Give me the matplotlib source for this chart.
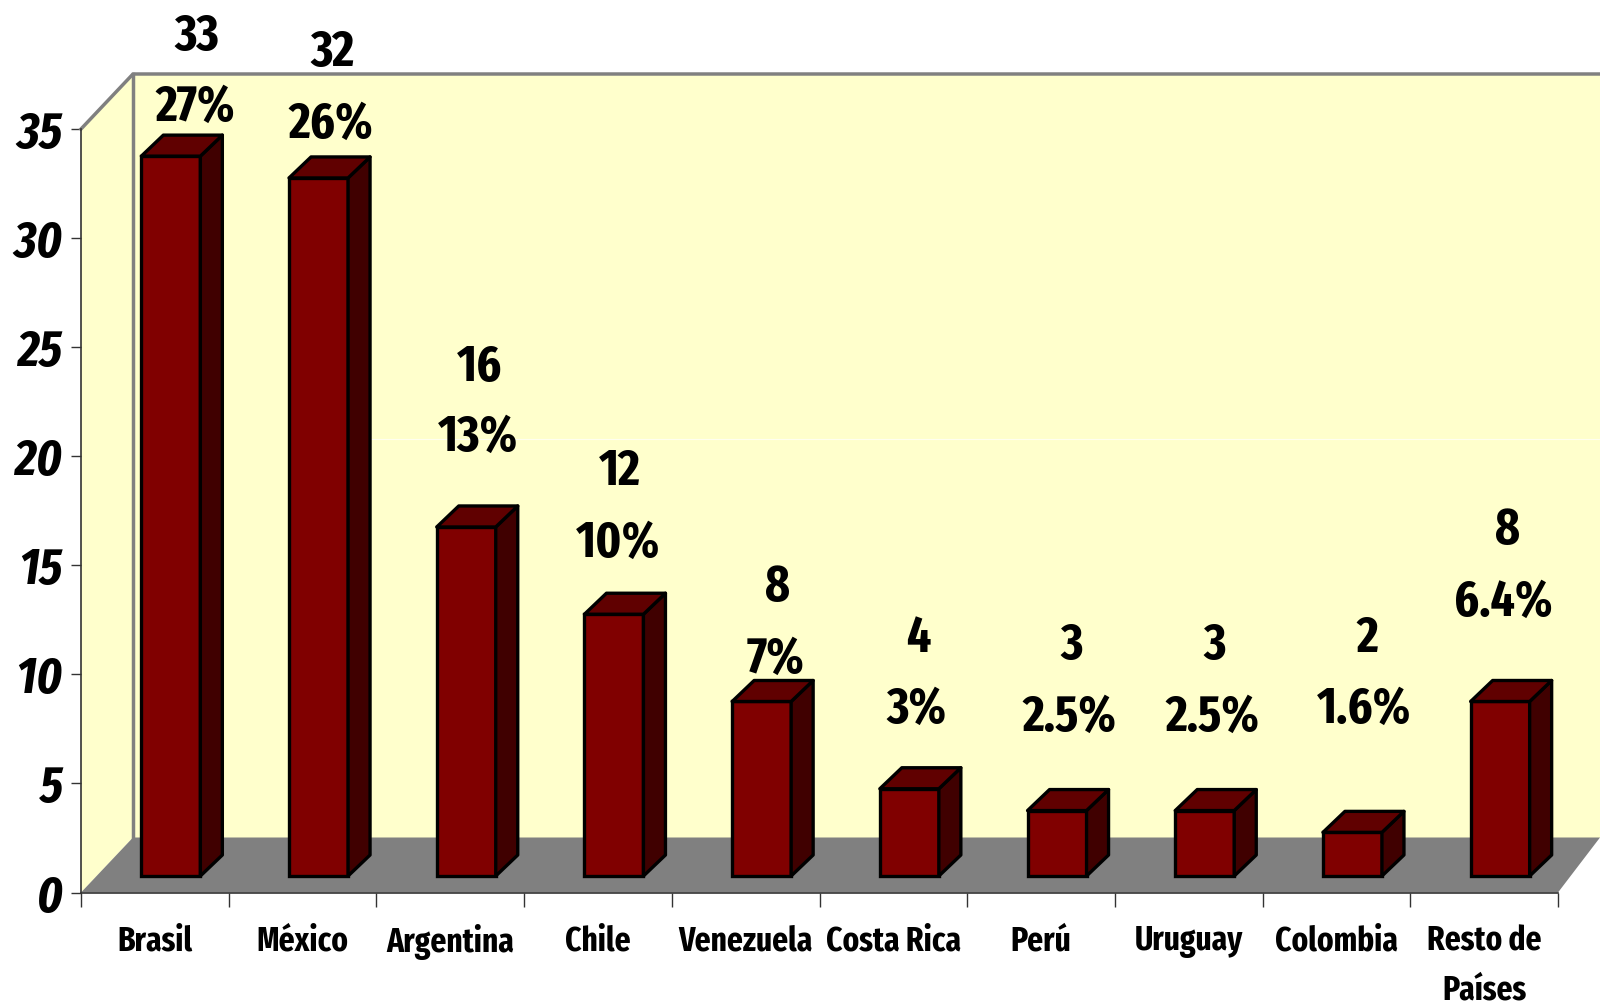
import matplotlib
matplotlib.use('Agg')
import matplotlib.pyplot as plt
from matplotlib.patches import Polygon

countries = ['Brasil', 'México', 'Argentina', 'Chile', 'Venezuela', 'Costa Rica',
             'Perú', 'Uruguay', 'Colombia', 'Resto de\nPaíses']
values = [33, 32, 16, 12, 8, 4, 3, 3, 2, 8]
percents = ['27%', '26%', '13%', '10%', '7%', '3%', '2.5%', '2.5%', '1.6%', '6.4%']
yticks = [0, 5, 10, 15, 20, 25, 30, 35]

# label centres in pixels of the 1600x1007 picture
val_x = [197, 332, 480, 620, 778, 918, 1072, 1215, 1367, 1507]
val_y = [37, 53, 368, 472, 588, 639, 646, 646, 639, 531]
pct_x = [195, 331, 478, 618, 776, 916, 1069, 1212, 1364, 1503]
pct_y = [108, 125, 438, 544, 660, 710, 718, 718, 710, 603]

W, H = 1600, 1007
font = ['Fira Sans Extra Condensed', 'Liberation Sans', 'DejaVu Sans']

fig = plt.figure(figsize=(16, 10.07), dpi=100)
ax = fig.add_axes([81 / W, 1 - 892.5 / H, (1558 - 81) / W, (892.5 - 129) / H])
ax.set_xlim(0, 10)
ax.set_ylim(0, 35)
ax.patch.set_visible(False)

px = 10 / (1558 - 81)   # one pixel in x data units
py = 35 / (892.5 - 129)  # one pixel in y data units
wall_dx = 52 * px
wall_dy = 55 * py
right = 10 + 42 * px

# side wall, back wall, floor
ax.add_patch(Polygon([(0, 0), (wall_dx, wall_dy), (wall_dx, 35 + wall_dy), (0, 35)],
                     fc='#FFFFCC', ec='none', clip_on=False, zorder=1))
ax.add_patch(Polygon([(wall_dx, wall_dy), (right, wall_dy), (right, 35 + wall_dy), (wall_dx, 35 + wall_dy)],
                     fc='#FFFFCC', ec='none', clip_on=False, zorder=1))
ax.add_patch(Polygon([(0, 0), (wall_dx, wall_dy), (right, wall_dy), (10, 0)],
                     fc='#808080', ec='none', clip_on=False, zorder=2))
ax.plot([0, wall_dx, right], [35, 35 + wall_dy, 35 + wall_dy], color='#808080', lw=2.5, clip_on=False, zorder=3)
ax.plot([wall_dx, wall_dx], [wall_dy, 35 + wall_dy], color='#808080', lw=2.5, clip_on=False, zorder=3)
ax.plot([1.95, right], [20.78, 20.78], color='white', lw=0.8, alpha=0.7, clip_on=False, zorder=1.5)

# bars, with the 3d faces added on top
width = 59 * px
base = 16.5 * py
depth_x = 22 * px
depth_y = 21 * py
offset = 16 * px
for i, v in enumerate(values):
    x0 = i + 0.5 + offset - width / 2
    x1 = x0 + width
    ax.bar(x0 + width / 2, v, width=width, bottom=base, color='#800000', edgecolor='black',
           linewidth=2.4, zorder=5, clip_on=False)
    top = base + v
    ax.add_patch(Polygon([(x1, base), (x1 + depth_x, base + depth_y), (x1 + depth_x, top + depth_y), (x1, top)],
                         fc='#400000', ec='black', lw=2.4, joinstyle='round', clip_on=False, zorder=5))
    ax.add_patch(Polygon([(x0, top), (x0 + depth_x, top + depth_y), (x1 + depth_x, top + depth_y), (x1, top)],
                         fc='#600000', ec='black', lw=2.4, joinstyle='round', clip_on=False, zorder=5))

# axes lines and ticks
for s in ['top', 'right']:
    ax.spines[s].set_visible(False)
for s in ['left', 'bottom']:
    ax.spines[s].set_color('#333333')
    ax.spines[s].set_linewidth(1.2)
    ax.spines[s].set_zorder(4)

ax.set_yticks(yticks)
ax.set_yticklabels(yticks, fontsize=37, fontweight='bold', fontstyle='italic', family=font)
ax.tick_params(axis='y', length=7, width=1, color='#333333', pad=6)

ax.set_xticks(range(11))
ax.set_xticklabels([])
ax.tick_params(axis='x', which='major', length=10, width=1, color='#333333')
ax.set_xticks([i + 0.5 for i in range(10)], minor=True)
ax.set_xticklabels(countries, minor=True, fontsize=24.5, fontweight='bold', family=font,
                   linespacing=1.6, va='top')
ax.tick_params(axis='x', which='minor', length=0, pad=23)

for i in range(10):
    fig.text(val_x[i] / W, 1 - val_y[i] / H, str(values[i]), ha='center', va='center',
             fontsize=37, fontweight='bold', family=font, zorder=10)
    fig.text(pct_x[i] / W, 1 - pct_y[i] / H, percents[i], ha='center', va='center',
             fontsize=37, fontweight='bold', family=font, zorder=10)

fig.savefig('out.png', dpi=100)
